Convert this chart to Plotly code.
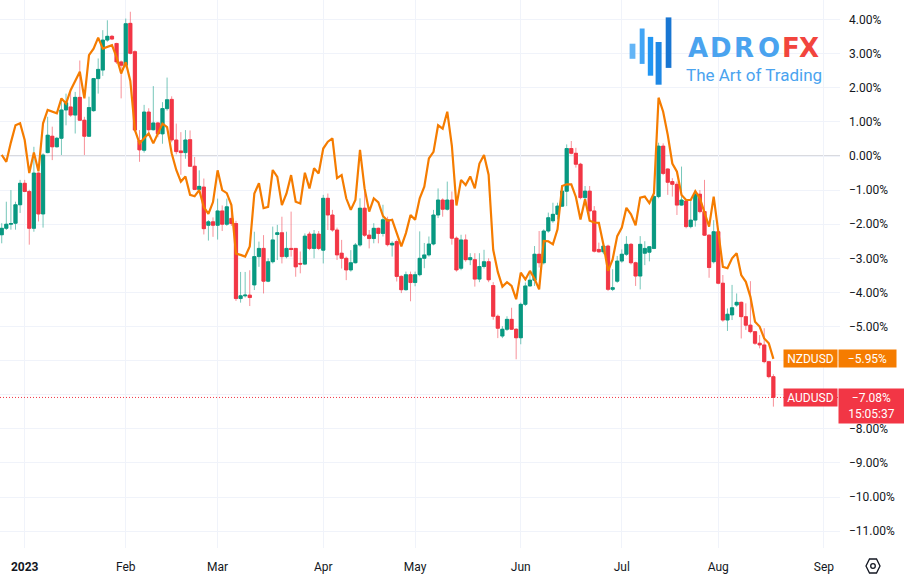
import pandas as pd
import plotly.graph_objects as go

# ---------------- data (percent change) ----------------
aud_open = [-2.31,-2.12,-2.00,-1.97,-1.43,-0.80,-1.04,-2.12,-0.50,-1.70,0.10,0.58,0.27,0.52,1.35,1.44,1.20,1.72,1.05,0.58,
            1.33,2.27,2.52,3.40,3.51,3.30,2.76,2.66,3.89,3.06,0.45,0.17,1.29,0.77,0.97,0.65,1.39,1.66,0.47,0.15,
            0.10,0.48,-0.30,-0.98,-0.91,-2.03,-1.93,-2.03,-1.61,-2.00,-1.83,-1.98,-4.18,-4.10,-4.08,-3.78,-2.95,-2.71,-3.67,-3.10,
            -2.30,-2.25,-2.95,-2.71,-2.71,-3.15,-3.17,-2.29,-2.71,-2.29,-2.76,-1.24,-1.73,-2.17,-2.85,-3.00,-3.34,-3.13,-2.61,-1.53,
            -2.32,-2.42,-2.12,-2.27,-1.87,-2.61,-2.51,-3.53,-3.92,-3.48,-3.71,-3.48,-3.00,-2.90,-2.58,-1.73,-1.29,-1.56,-1.29,-2.41,
            -3.29,-2.46,-3.04,-3.04,-3.61,-3.24,-3.10,-3.80,-4.70,-5.28,-5.08,-4.79,-5.08,-5.33,-4.35,-3.81,-3.64,-2.88,-3.13,-2.20,
            -1.90,-1.71,-1.47,-1.03,0.22,0.08,-0.24,-1.22,-1.03,-1.61,-2.74,-2.81,-2.64,-3.91,-3.67,-3.08,-2.88,-2.59,-3.13,-3.52,
            -2.85,-2.82,-2.71,-1.19,0.29,-0.38,-0.75,-0.83,-1.44,-1.32,-2.07,-1.88,-1.12,-1.63,-2.32,-3.10,-2.22,-3.73,-4.81,-4.66,
            -4.37,-4.29,-4.71,-4.96,-5.15,-5.49,-5.54,-6.03,-6.47]
aud_high = [-1.97,-1.34,-1.00,-1.34,-0.70,-0.70,-0.99,0.27,-0.48,0.08,1.15,0.86,0.56,1.64,1.83,1.88,1.88,2.80,1.15,1.74,
            2.29,2.86,3.69,3.98,3.55,3.32,2.80,4.03,4.23,3.10,0.76,1.50,1.40,2.05,1.00,1.58,2.30,1.75,0.95,0.70,
            0.76,0.75,-0.03,-0.42,-0.66,-1.88,-1.80,-1.25,-1.45,-1.25,-1.60,-1.90,-3.40,-3.40,-3.35,-2.22,-2.51,-2.32,-3.00,-2.07,
            -2.02,-1.78,-2.22,-1.63,-2.70,-2.80,-2.27,-2.22,-2.17,-2.20,-1.14,-1.10,-1.58,-2.10,-2.46,-2.95,-2.76,-2.55,-1.24,-0.95,
            -2.17,-1.97,-2.10,-1.43,-1.78,-2.50,-2.45,-3.50,-3.39,-3.39,-3.39,-2.21,-2.55,-2.36,-1.58,-0.95,-1.24,-0.75,-1.04,-2.36,
            -2.31,-2.30,-2.85,-2.85,-2.85,-2.75,-3.00,-3.70,-4.65,-4.99,-4.70,-4.45,-5.05,-4.30,-3.71,-3.42,-2.64,-2.20,-2.15,-1.66,
            -1.37,-1.37,-0.88,0.34,0.44,0.24,-0.20,-0.88,-0.88,-1.47,-2.54,-2.54,-2.60,-3.32,-2.93,-2.74,-2.35,-2.55,-3.10,-2.35,
            -2.50,-2.64,-1.14,0.39,0.37,-0.36,-0.65,-0.75,-0.31,-1.29,-1.29,-1.00,-1.00,-0.70,-2.30,-1.88,-2.20,-3.49,-4.47,-3.78,
            -4.03,-4.27,-4.32,-3.67,-5.13,-5.25,-5.05,-6.01,-6.40]
aud_low = [-2.56,-2.17,-2.16,-2.16,-1.67,-1.06,-2.60,-2.22,-1.92,-2.10,0.08,-0.12,0.25,0.03,0.90,1.15,0.66,1.03,0.03,0.56,
           1.30,1.83,2.35,3.35,3.40,2.70,1.69,2.60,2.98,0.70,-0.17,0.10,0.70,0.75,0.55,0.36,1.33,0.40,0.05,-0.55,
           -0.08,-0.32,-1.00,-1.02,-2.30,-2.48,-2.37,-2.45,-2.20,-2.05,-2.05,-4.25,-4.30,-4.15,-4.40,-3.93,-3.25,-4.03,-3.70,-3.15,
           -3.05,-3.15,-3.00,-2.95,-3.54,-3.44,-3.20,-2.76,-3.00,-2.76,-3.15,-2.17,-2.22,-3.05,-3.30,-3.64,-3.39,-3.15,-2.66,-2.37,
           -2.71,-2.56,-2.56,-2.36,-2.65,-2.95,-3.68,-4.02,-3.95,-4.26,-3.82,-3.53,-3.29,-2.95,-2.62,-1.82,-1.78,-1.60,-2.60,-3.39,
           -3.35,-3.10,-3.20,-3.83,-3.70,-3.30,-3.70,-4.80,-5.34,-5.34,-5.13,-5.10,-5.96,-5.52,-4.40,-3.83,-3.81,-3.27,-3.18,-2.25,
           -1.96,-1.86,-1.49,-1.47,0.05,-0.34,-1.27,-1.47,-1.81,-2.83,-2.83,-2.88,-3.96,-3.96,-3.72,-3.13,-2.93,-3.18,-3.81,-3.91,
           -3.20,-3.09,-2.73,-1.24,-0.56,-1.14,-1.19,-1.73,-1.46,-2.12,-2.12,-2.07,-1.68,-2.34,-3.57,-3.15,-3.76,-4.86,-5.13,-4.81,
           -4.42,-5.35,-5.10,-5.20,-5.54,-5.64,-6.08,-6.52,-7.35]
aud_close = [-2.12,-2.00,-1.98,-1.43,-0.80,-1.04,-2.12,-0.50,-1.70,0.03,0.61,0.27,0.52,1.35,1.56,1.20,1.72,1.05,0.58,1.42,
             2.27,2.54,3.40,3.51,3.43,2.76,2.66,3.88,3.01,0.76,0.18,1.29,0.77,0.97,0.65,1.39,1.65,0.47,0.13,0.10,
             0.47,-0.30,-0.98,-0.89,-2.13,-1.93,-2.03,-1.61,-2.00,-1.49,-1.98,-4.18,-4.10,-4.08,-4.15,-2.95,-2.71,-3.67,-3.10,-2.46,
             -2.25,-2.95,-2.71,-2.74,-3.25,-3.17,-2.35,-2.71,-2.29,-2.71,-1.24,-1.73,-2.17,-2.90,-3.00,-3.34,-3.13,-2.61,-1.53,-2.32,
             -2.42,-2.12,-2.27,-1.87,-2.60,-2.56,-3.53,-3.92,-3.48,-3.71,-3.48,-3.00,-2.90,-2.58,-1.73,-1.29,-1.56,-1.29,-2.41,-3.34,
             -2.46,-3.04,-2.98,-3.61,-3.24,-3.10,-3.63,-4.70,-5.05,-5.08,-4.79,-5.08,-5.33,-4.35,-3.81,-3.64,-2.88,-3.13,-2.20,-1.81,
             -1.71,-1.47,-1.03,0.22,0.08,-0.24,-1.22,-1.03,-1.61,-2.79,-2.81,-2.64,-3.91,-3.86,-3.08,-2.88,-2.59,-3.13,-3.52,-2.59,
             -2.71,-2.66,-1.19,0.29,-0.51,-0.77,-0.83,-1.44,-1.29,-2.07,-1.88,-1.12,-1.63,-2.32,-3.27,-2.22,-3.73,-4.81,-4.64,-4.45,
             -4.29,-4.71,-4.96,-5.15,-5.49,-5.54,-6.03,-6.47,-7.08]
nzd_close = [0.03,-0.17,0.40,0.90,0.96,0.47,-0.50,0.10,-0.45,0.96,1.35,1.30,1.25,1.69,1.54,1.93,2.22,2.47,1.69,2.96,
             3.15,3.47,3.15,3.20,3.25,2.90,2.42,2.75,2.20,0.76,0.37,0.52,0.66,0.37,0.66,0.95,0.85,0.08,-0.41,-0.75,
             -0.60,-1.14,-1.18,-1.00,-1.50,-1.70,-1.35,-0.42,-1.00,-1.09,-1.44,-2.86,-2.90,-2.95,-2.65,-1.10,-0.80,-1.53,-1.49,-0.41,
             -0.61,-1.44,-1.10,-0.56,-1.34,-1.39,-0.49,-0.95,-0.36,-0.51,0.22,0.42,0.52,-0.65,-0.56,-1.24,-1.58,-1.29,0.18,-0.95,
             -1.63,-1.24,-1.36,-1.76,-1.90,-1.87,-2.26,-2.65,-2.26,-1.73,-1.87,-1.24,-0.90,-0.07,0.12,0.90,0.80,1.30,0.30,-1.45,
             -0.70,-0.85,-0.60,-0.95,-0.22,0.03,-0.55,-2.75,-3.40,-3.83,-3.70,-3.81,-4.20,-3.42,-3.62,-3.37,-3.60,-3.91,-2.49,-2.50,
             -2.59,-2.15,-0.88,-0.83,-0.83,-1.20,-1.86,-1.27,-1.90,-1.95,-1.96,-2.60,-3.37,-3.03,-2.35,-2.10,-1.52,-1.71,-2.03,-1.22,
             -1.19,-1.38,-1.09,1.71,1.30,0.62,-0.22,-0.46,-1.14,-1.29,-1.29,-1.03,-1.24,-1.68,-2.07,-1.19,-2.22,-3.25,-3.29,-3.00,
             -2.85,-3.49,-3.69,-4.13,-4.86,-5.00,-5.35,-5.49,-5.95]

dates = pd.bdate_range("2022-12-26", periods=len(aud_close))

month_ticks = ["2023-01-02", "2023-02-01", "2023-03-01", "2023-04-03", "2023-05-01",
               "2023-06-01", "2023-07-03", "2023-08-01", "2023-09-01"]
month_labels = ["<b>2023</b>", "Feb", "Mar", "Apr", "May", "Jun", "Jul", "Aug", "Sep"]
pct_ticks = list(range(-11, 5))

# price-scale labels hidden under the last-value boxes
covered = [nzd_close[-1], aud_close[-1]]
pct_labels = ["" if any(abs(v - c) < 0.5 for c in covered)
              else f"{v:.2f}%".replace("-", "\u2212") for v in pct_ticks]

# body-only arrays (top/bottom of each candle body)
body_top = [max(o, c) for o, c in zip(aud_open, aud_close)]
body_bot = [min(o, c) for o, c in zip(aud_open, aud_close)]

# ---------------- styling ----------------
W, H = 904, 582
ML, MR, MT, MB = 0, 64, 0, 34
PW, PH = W - ML - MR, H - MT - MB
GREEN, RED, ORANGE = "#089981", "#F23645", "#F57C00"
GREEN_W, RED_W = "rgba(8,153,129,0.55)", "rgba(242,54,69,0.55)"
TXT = "#131722"
FONT = "Trebuchet MS, Roboto, sans-serif"

def px(x):
    return (x - ML) / PW

def py(y):
    return (H - MB - y) / PH

fig = go.Figure()
# wicks (lighter)
fig.add_trace(go.Candlestick(
    x=dates, open=aud_open, high=aud_high, low=aud_low, close=aud_close,
    increasing=dict(fillcolor=GREEN, line=dict(color=GREEN_W, width=1)),
    decreasing=dict(fillcolor=RED, line=dict(color=RED_W, width=1)),
    whiskerwidth=0, showlegend=False, name="AUDUSD"))
# solid bodies on top
fig.add_trace(go.Candlestick(
    x=dates, open=aud_open, high=body_top, low=body_bot, close=aud_close,
    increasing=dict(fillcolor=GREEN, line=dict(color=GREEN, width=0.6)),
    decreasing=dict(fillcolor=RED, line=dict(color=RED, width=0.6)),
    whiskerwidth=0, showlegend=False, name="AUDUSD body"))
fig.add_trace(go.Scatter(x=dates, y=nzd_close, mode="lines",
                         line=dict(color=ORANGE, width=2.2), showlegend=False, name="NZDUSD"))

shapes = []
shapes.append(dict(type="line", xref="paper", yref="y", x0=0, x1=1, y0=0, y1=0,
                   line=dict(color="#b2b5be", width=1), layer="below"))
shapes.append(dict(type="line", xref="paper", yref="y", x0=0, x1=1,
                   y0=aud_close[-1], y1=aud_close[-1], line=dict(color=RED, width=1, dash="1px,2px")))
logo_bars = [(629.6, 635.4, 43.7, 58.8, "#64b5f6"), (639.7, 644.6, 28.5, 63.9, "#42a5f5"),
             (647.8, 653.2, 36.9, 75.7, "#2196f3"), (655.6, 661.6, 42.0, 84.7, "#1e88e5"),
             (665.7, 671.4, 17.4, 67.9, "#1976d2")]
for x0, x1, y0, y1, c in logo_bars:
    shapes.append(dict(type="rect", xref="paper", yref="paper", x0=px(x0), x1=px(x1),
                       y0=py(y1), y1=py(y0), fillcolor=c, line=dict(width=0)))
cx, cy = 873, 566
hexpts = [(cx - 7, cy), (cx - 3.5, cy - 7), (cx + 3.5, cy - 7), (cx + 7, cy), (cx + 3.5, cy + 7), (cx - 3.5, cy + 7)]
path = "M " + " L ".join(f"{px(a):.5f},{py(b):.5f}" for a, b in hexpts) + " Z"
shapes.append(dict(type="path", xref="paper", yref="paper", path=path, line=dict(color=TXT, width=1.3)))
shapes.append(dict(type="circle", xref="paper", yref="paper", x0=px(cx - 2.3), x1=px(cx + 2.3),
                   y0=py(cy + 2.3), y1=py(cy - 2.3), line=dict(color=TXT, width=1.3)))

ann = []
for ch, xc, col in [("A", 698, "#4aa3ef"), ("D", 720.5, "#4aa3ef"), ("R", 744, "#4aa3ef"),
                    ("O", 769, "#4aa3ef"), ("F", 791, "#f2453d"), ("X", 809, "#f2453d")]:
    ann.append(dict(xref="paper", yref="paper", x=px(xc), y=py(48), text=ch, showarrow=False,
                    xanchor="center", yanchor="middle",
                    font=dict(family="DejaVu Sans", size=26, color=col, weight="bold")))
ann.append(dict(xref="paper", yref="paper", x=px(684), y=py(75), text="The Art of Trading",
                showarrow=False, xanchor="left", yanchor="middle",
                font=dict(family="Roboto", size=17, color="#4aa3ef")))
lab_font = dict(family=FONT, size=12, color="white")
ann.append(dict(xref="paper", yref="y", x=px(783), y=nzd_close[-1], text="NZDUSD", showarrow=False,
                xanchor="left", yanchor="middle", bgcolor=ORANGE, width=53, height=17,
                borderpad=0, font=lab_font))
ann.append(dict(xref="paper", yref="y", x=px(838), y=nzd_close[-1],
                text=f"{nzd_close[-1]:.2f}%".replace("-", "\u2212"), showarrow=False,
                xanchor="left", yanchor="middle", bgcolor=ORANGE, width=57, height=17,
                borderpad=0, font=lab_font))
ann.append(dict(xref="paper", yref="y", x=px(783), y=aud_close[-1], text="AUDUSD", showarrow=False,
                xanchor="left", yanchor="middle", bgcolor=RED, width=53, height=17,
                borderpad=0, font=lab_font))
ann.append(dict(xref="paper", yref="y", x=px(838), y=aud_close[-1],
                text=f"{aud_close[-1]:.2f}%".replace("-", "\u2212") + "<br>15:05:37", showarrow=False,
                xanchor="left", yanchor="top", yshift=9, bgcolor=RED, width=65, height=34,
                borderpad=0, font=lab_font))

fig.update_layout(
    width=W, height=H, margin=dict(l=ML, r=MR, t=MT, b=MB),
    paper_bgcolor="white", plot_bgcolor="white",
    font=dict(family=FONT, size=12, color=TXT),
    shapes=shapes, annotations=ann, boxgap=0.3, boxgroupgap=0, boxmode="overlay",
    hovermode=False,
    xaxis=dict(type="date", rangeslider=dict(visible=False),
               rangebreaks=[dict(bounds=["sat", "mon"])],
               range=["2022-12-23 15:00", "2023-09-06 12:00"],
               tickmode="array", tickvals=month_ticks, ticktext=month_labels,
               showgrid=True, gridcolor="#f0f3fa", gridwidth=1, zeroline=False,
               showline=False, ticks="", ticklabelstandoff=10,
               tickfont=dict(size=12, color=TXT)),
    yaxis=dict(side="right", range=[-11.495, 4.575], tickmode="array",
               tickvals=pct_ticks, ticktext=pct_labels,
               showgrid=True, gridcolor="#f0f3fa", gridwidth=1, zeroline=False,
               showline=False, ticks="", ticklabelstandoff=8,
               tickfont=dict(size=12, color=TXT)),
)

fig.write_html("out.html", config={"displayModeBar": False, "staticPlot": True},
               post_script="document.body.style.margin='0';document.body.style.padding='0';"
                           "document.body.style.overflow='hidden';")
